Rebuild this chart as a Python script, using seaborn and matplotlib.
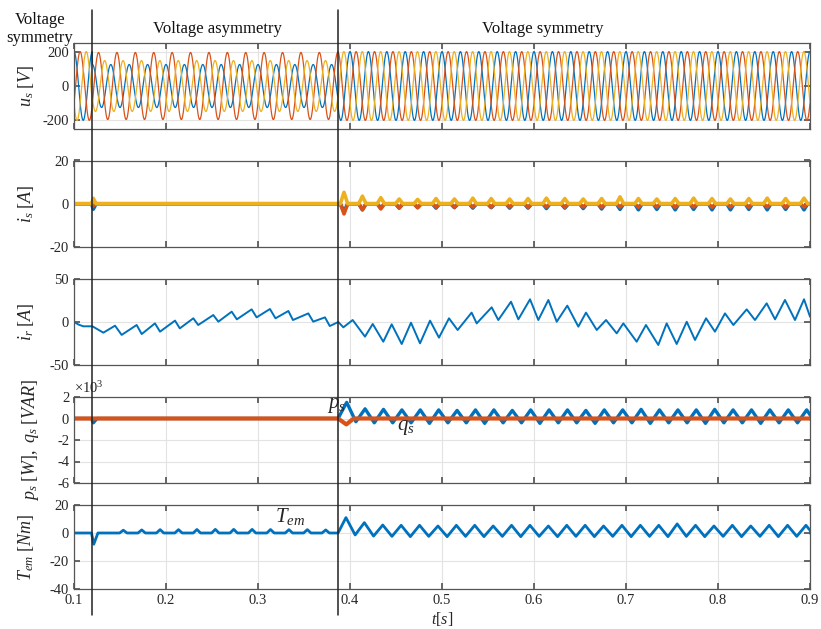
import numpy as np
import matplotlib
matplotlib.use("Agg")
import matplotlib.pyplot as plt
import seaborn as sns
from matplotlib.transforms import blended_transform_factory
from matplotlib.lines import Line2D
from matplotlib.ticker import FuncFormatter

# ---------------- data ----------------
T_START, T_END = 0.1, 0.9
t_fault_on = 0.12          # start of voltage asymmetry
t_fault_off = 0.387        # return to voltage symmetry
f_grid = 50.0              # Hz
ripple_period = 0.02       # s, ripple seen in i_s, p_s, T_em, i_r

# stator voltage amplitudes [V] per segment: symmetric / asymmetric / symmetric
ua_amp = [200, 125, 200]   # blue
ub_amp = [200, 195, 200]   # red
uc_amp = [200, 148, 200]   # yellow
phase_deg = [0, -120, 120]

# rotor current i_r [A]: extrema (time, value)
ir_t = [0.100, 0.105, 0.110, 0.120, 0.1319, 0.1446, 0.1518, 0.1681, 0.1736, 0.1880,
        0.1935, 0.2098, 0.2150, 0.2297, 0.2350, 0.2514, 0.2569, 0.2714, 0.2770, 0.2931,
        0.2985, 0.3130, 0.3190, 0.3330, 0.3380, 0.3547, 0.3600, 0.3728, 0.3780, 0.3873,
        0.3928, 0.4029, 0.4163, 0.4247, 0.4362, 0.4453, 0.4562, 0.4663, 0.4761, 0.4870,
        0.4967, 0.5076, 0.5170, 0.5322, 0.5377, 0.5540, 0.5612, 0.5750, 0.5830, 0.5957,
        0.6047, 0.6156, 0.6247, 0.6362, 0.6482, 0.6565, 0.6682, 0.6783, 0.6899, 0.6971,
        0.7116, 0.7217, 0.7351, 0.7442, 0.7551, 0.7660, 0.7750, 0.7870, 0.7967, 0.8076,
        0.8167, 0.8312, 0.8402, 0.8529, 0.8620, 0.8728, 0.8837, 0.8935, 0.9000]
ir_v = [0, -3, -5, -5, -12.4, -4.3, -15, -3.5, -14, -1.6,
        -11.2, 1.6, -7.4, 4.3, -3.5, 8.1, 0.4, 12, 3.1, 14.7,
        5.4, 15.1, 4.3, 12.8, 2.3, 10, 0.4, 5.4, -4.7, 0,
        -6.2, 2.3, -17, -2.3, -22.9, -2.7, -25.6, -0.8, -24.8, 1.6,
        -18.2, 4.3, -9.3, 10.9, -1.6, 17.1, 2.3, 23.6, 3.1, 26.4,
        2.3, 25.6, 0.3, 19, -5.4, 10.9, -9.3, 2.3, -13.2, -1.6,
        -22.9, -3.5, -26.7, -1.6, -25.6, 0.3, -20.9, 4.3, -11.2, 10,
        -3.5, 14.7, 2.3, 21.7, 3.1, 25.6, 2.3, 26.4, 6.2]

# stator currents i_s [A]: spike heights after t_fault_off (one per ripple period)
is_first = 0.3935
is_a_spk = [-3.6, -2.8, -2.0, -2.0, -1.8, -2.0, -1.8, -2.0, -1.8, -2.0, -2.0, -2.2, -2.0,
            -2.2, -2.4, -2.6, -2.8, -2.6, -2.8, -2.6, -2.8, -2.8, -2.6, -2.8, -2.6, -2.8]
is_b_spk = [-4.7, -2.8, -2.4, -2.0, -1.8, -1.6, -1.6, -1.5, -1.6, -1.5, -1.6, -1.5, -1.6,
            -1.5, -1.6, -1.5, -1.6, -1.5, -1.6, -1.5, -1.6, -1.5, -1.6, -1.5, -1.6, -1.5]
is_c_spk = [5.3, 3.5, 2.8, 2.2, 2.0, 2.4, 2.2, 2.6, 2.4, 2.2, 2.4, 2.6, 2.4,
            2.2, 2.4, 3.2, 2.4, 2.2, 2.4, 2.6, 2.4, 2.2, 2.4, 2.6, 2.4, 2.6]
is_on_spk = [-2.5, -1.0, 2.5]   # blue, red, yellow at t_fault_on

# active / reactive power [W], [VAR]
ps_first = 0.3964
ps_peak = [1500, 900, 850, 800, 800, 800, 750, 800, 800, 750, 800, 800, 800,
           750, 800, 800, 850, 800, 800, 800, 850, 800, 800, 800, 800, 800]
ps_trough = [-300, -400, -400, -400, -450, -400, -400, -450, -400, -400, -450, -400, -400,
             -450, -400, -400, -450, -400, -400, -450, -400, -400, -450, -400, -400, -450]
ps_on_dip = -400
qs_dip_t, qs_dip_v = 0.396, -550

# electromagnetic torque T_em [Nm]
tem_on_dip = -8
tem_left_first = 0.1536
tem_left_spk = [2.0, 2.2, 2.4, 2.4, 2.5, 2.6, 2.6, 2.6, 2.5, 2.4, 2.4, 2.2]
tem_first = 0.3956
tem_peak = [11, 7.4, 5.7, 5.5, 5.5, 5.0, 5.5, 5.5, 5.0, 5.5, 5.5, 5.0, 5.5,
            5.5, 5.0, 5.5, 5.5, 5.5, 6.5, 5.5, 5.0, 5.5, 5.0, 5.5, 5.5, 5.5]
tem_trough = [-1.4, -2.2, -2.4, -2.6, -2.4, -2.6, -2.4, -2.6, -2.4, -2.6, -2.4, -2.6, -2.4,
              -2.6, -2.4, -2.6, -2.4, -2.6, -2.4, -2.6, -2.4, -2.6, -2.4, -2.6, -2.4, -2.6]

x_ticks = [0.1, 0.2, 0.3, 0.4, 0.5, 0.6, 0.7, 0.8, 0.9]
col_a, col_b, col_c = "#0072BD", "#D95319", "#EDB120"

# ---------------- helpers to assemble traces ----------------
def spikes(t_first, heights, base=0.0, half=0.003):
    xs, ys = [], []
    for k, h in enumerate(heights):
        tp = t_first + k * ripple_period
        xs += [tp - half, tp, tp + half]
        ys += [base, h, base]
    return xs, ys

def zigzag(t_first, peaks, troughs):
    xs, ys = [], []
    for k, (p, q) in enumerate(zip(peaks, troughs)):
        tp = t_first + k * ripple_period
        xs += [tp, tp + 0.5 * ripple_period]
        ys += [p, q]
    return xs, ys

# voltages
t = np.linspace(T_START, T_END, 8001)
seg = np.where(t < t_fault_on, 0, np.where(t < t_fault_off, 1, 2))
volts = []
for amp, ph in zip([ua_amp, ub_amp, uc_amp], phase_deg):
    a = np.array(amp)[seg]
    volts.append(a * np.cos(2 * np.pi * f_grid * t + np.deg2rad(ph)))

# stator currents
is_traces = []
for k, spk in enumerate([is_a_spk, is_b_spk, is_c_spk]):
    xs = [T_START, t_fault_on - 0.001, t_fault_on + 0.001, t_fault_on + 0.004, t_fault_off]
    ys = [0, 0, is_on_spk[k], 0, 0]
    sx, sy = spikes(is_first, spk, half=0.004)
    is_traces.append((xs + sx + [T_END], ys + sy + [0]))

# powers
zx, zy = zigzag(ps_first, ps_peak, ps_trough)
ps_x = [T_START, t_fault_on - 0.001, t_fault_on + 0.001, t_fault_on + 0.005, t_fault_off] + zx + [T_END]
ps_y = [0, 0, ps_on_dip, 0, 0] + zy + [0]
qs_x = [T_START, t_fault_off, qs_dip_t, qs_dip_t + 0.008, T_END]
qs_y = [0, 0, qs_dip_v, 0, 0]

# torque
lx, ly = spikes(tem_left_first, tem_left_spk, half=0.004)
zx, zy = zigzag(tem_first, tem_peak, tem_trough)
tem_x = [T_START, t_fault_on - 0.001, t_fault_on + 0.0015, t_fault_on + 0.006] + lx + [t_fault_off] + zx + [T_END]
tem_y = [0, 0, tem_on_dip, 0] + ly + [0] + zy + [0]

# ---------------- style ----------------
sns.set_theme(style="ticks")
plt.rcParams.update({
    "font.family": ["Liberation Serif", "DejaVu Serif"],
    "mathtext.fontset": "custom",
    "mathtext.rm": "Liberation Serif",
    "mathtext.it": "Liberation Serif:italic",
    "axes.unicode_minus": False,
    "xtick.direction": "in", "ytick.direction": "in",
    "xtick.top": True, "ytick.right": True,
    "axes.edgecolor": "#555555", "axes.linewidth": 0.9,
    "xtick.color": "#555555", "ytick.color": "#555555",
    "xtick.labelcolor": "#262626", "ytick.labelcolor": "#262626",
    "xtick.labelsize": 10.5, "ytick.labelsize": 10.5,
    "xtick.major.size": 4, "ytick.major.size": 4,
})

fig = plt.figure(figsize=(8.21, 6.29), dpi=100)
left, width = 74 / 821, 736 / 821
tops = [43, 160.5, 279, 397, 505]
bots = [129, 247, 365, 483, 589]
axes = [fig.add_axes([left, 1 - b / 629, width, (b - tp) / 629]) for tp, b in zip(tops, bots)]

for ax in axes:
    ax.set_xlim(T_START, T_END)
    ax.set_xticks(x_ticks)
    ax.grid(True, color="#e3e3e3", lw=0.8)
    ax.set_axisbelow(True)
    for s in ax.spines.values():
        s.set_visible(True)

# panel 1: voltages
ax = axes[0]
for v, c in zip(volts, [col_a, col_b, col_c]):
    sns.lineplot(x=t, y=v, ax=ax, color=c, linewidth=0.9, estimator=None, sort=False)
ax.set_ylim(-250, 250)
ax.set_yticks([-200, 0, 200])
ax.set_ylabel(r"$u_s\ [V]$", fontsize=13)

# panel 2: stator currents
ax = axes[1]
for (xs, ys), c in zip(is_traces, [col_a, col_b, col_c]):
    sns.lineplot(x=xs, y=ys, ax=ax, color=c, linewidth=2.6, estimator=None, sort=False)
ax.set_ylim(-20, 20)
ax.set_yticks([-20, 0, 20])
ax.set_ylabel(r"$i_s\ [A]$", fontsize=13)

# panel 3: rotor current
ax = axes[2]
sns.lineplot(x=ir_t, y=ir_v, ax=ax, color=col_a, linewidth=1.4, estimator=None, sort=False)
ax.set_ylim(-50, 50)
ax.set_yticks([-50, 0, 50])
ax.set_ylabel(r"$i_r\ [A]$", fontsize=13)

# panel 4: powers
ax = axes[3]
sns.lineplot(x=ps_x, y=ps_y, ax=ax, color=col_a, linewidth=2.4, estimator=None, sort=False)
sns.lineplot(x=qs_x, y=qs_y, ax=ax, color=col_b, linewidth=3.0, estimator=None, sort=False)
ax.set_ylim(-6000, 2000)
ax.set_yticks([-6000, -4000, -2000, 0, 2000])
ax.yaxis.set_major_formatter(FuncFormatter(lambda v, p: f"{v / 1000:g}"))
ax.text(0.0, 1.015, r"$\times 10^3$", transform=ax.transAxes, ha="left", va="bottom",
        fontsize=10.5, color="#262626")
ax.set_ylabel(r"$p_s\ [W],\ q_s\ [VAR]$", fontsize=13)
ax.text(0.3745, 1250, r"$p_s$", fontsize=15, ha="left", va="center")
ax.text(0.451, -850, r"$q_s$", fontsize=15, ha="left", va="center")

# panel 5: torque
ax = axes[4]
sns.lineplot(x=tem_x, y=tem_y, ax=ax, color=col_a, linewidth=2.0, estimator=None, sort=False)
ax.set_ylim(-40, 20)
ax.set_yticks([-40, -20, 0, 20])
ax.set_ylabel(r"$T_{em}\ [Nm]$", fontsize=13)
ax.set_xlabel(r"$t[s]$", fontsize=11.5, labelpad=2)
ax.text(0.3185, 11.5, r"$T_{em}$", fontsize=15, ha="left", va="center")

for ax in axes[:-1]:
    ax.tick_params(labelbottom=False)
for i, ax in enumerate(axes):
    ax.yaxis.set_label_coords(-0.052 if i != 3 else -0.045, 0.5)

# event markers and segment titles
trans = blended_transform_factory(axes[0].transData, fig.transFigure)
for te in [t_fault_on, t_fault_off]:
    fig.add_artist(Line2D([te, te], [1 - 10 / 629, 1 - 615 / 629], transform=trans,
                          color="#222222", lw=1.1))
fig.text(40 / 821, 1 - 29 / 629, "Voltage\nsymmetry", ha="center", va="center",
         fontsize=12, linespacing=1.1, color="#111111")
axes[0].text(0.2555, 1 - 29 / 629, "Voltage asymmetry", transform=trans, ha="center",
             va="center", fontsize=12, color="#111111")
axes[0].text(0.6095, 1 - 29 / 629, "Voltage symmetry", transform=trans, ha="center",
             va="center", fontsize=12, color="#111111")

fig.savefig("out.png", dpi=100)
